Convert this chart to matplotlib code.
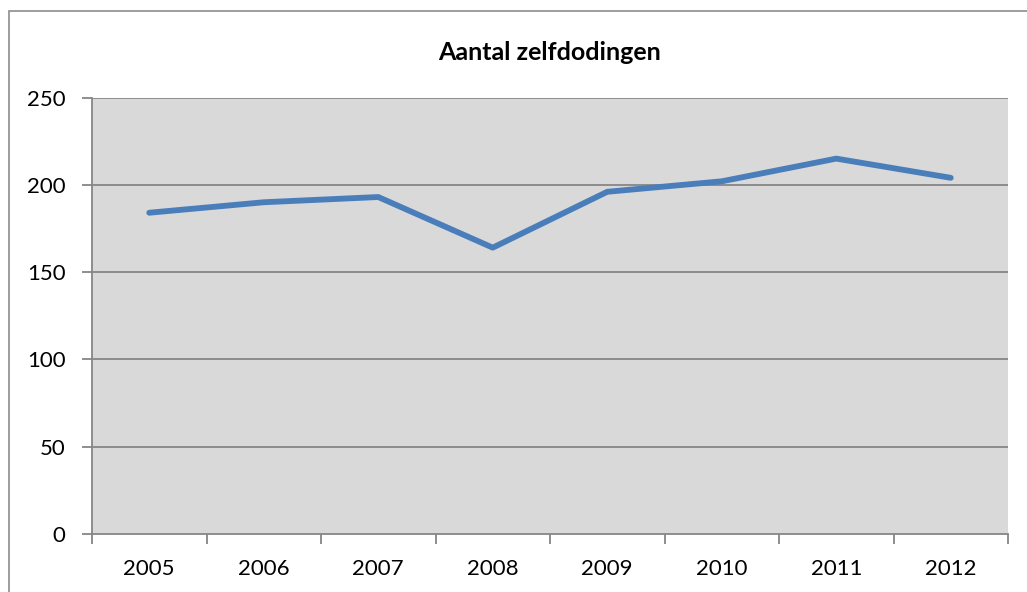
import numpy as np
import matplotlib as mpl
import matplotlib.pyplot as plt
from matplotlib.patches import Rectangle

mpl.rcParams['font.family'] = ['Lato', 'DejaVu Sans']

years = ['2005', '2006', '2007', '2008', '2009', '2010', '2011', '2012']
zelfdodingen = [184, 190, 193, 164, 196, 202, 215, 204]
y_ticks = [0, 50, 100, 150, 200, 250]
title = 'Aantal zelfdodingen'

W, H = 1027, 592
fig = plt.figure(figsize=(W / 100, H / 100), dpi=100)

# outer chart border (right and bottom edges fall outside the picture)
fig.patches.append(Rectangle((9 / W, -0.1), 1.2, 1 - 11 / H + 0.1, transform=fig.transFigure,
                             fill=False, edgecolor='#8c8c8c', linewidth=1.2))

ax = fig.add_axes([92 / W, 58 / H, (1008 - 92) / W, (534 - 97.5) / H])
ax.set_facecolor('#d9d9d9')

x = np.arange(len(years))
ax.plot(x, zelfdodingen, '-', color='#4a7ebb', linewidth=4.2, solid_capstyle='round',
        solid_joinstyle='round', zorder=3)

ax.set_xlim(-0.5, len(years) - 0.5)
ax.set_ylim(0, 250)
ax.set_yticks(y_ticks)
for v in y_ticks[1:]:
    ax.axhline(v, color='#868686', linewidth=1.3, zorder=1)

# category ticks sit between the labels
ax.set_xticks(np.arange(len(years) + 1) - 0.5)
ax.set_xticklabels([])
ax.set_xticks(x, minor=True)
ax.set_xticklabels(years, minor=True, fontsize=16)
ax.tick_params(axis='x', which='major', direction='out', length=7, width=1.3, color='#868686')
ax.tick_params(axis='x', which='minor', length=0, pad=18)
ax.tick_params(axis='y', direction='out', length=7, width=1.3, color='#868686', labelsize=16, pad=12)

for s in ['top', 'right']:
    ax.spines[s].set_visible(False)
for s in ['left', 'bottom']:
    ax.spines[s].set_color('#868686')
    ax.spines[s].set_linewidth(1.3)

fig.text((92 + 1008) / 2 / W, 1 - 52 / H, title, ha='center', va='center',
         fontsize=18, fontweight='bold')

fig.savefig('out.png', dpi=100)
